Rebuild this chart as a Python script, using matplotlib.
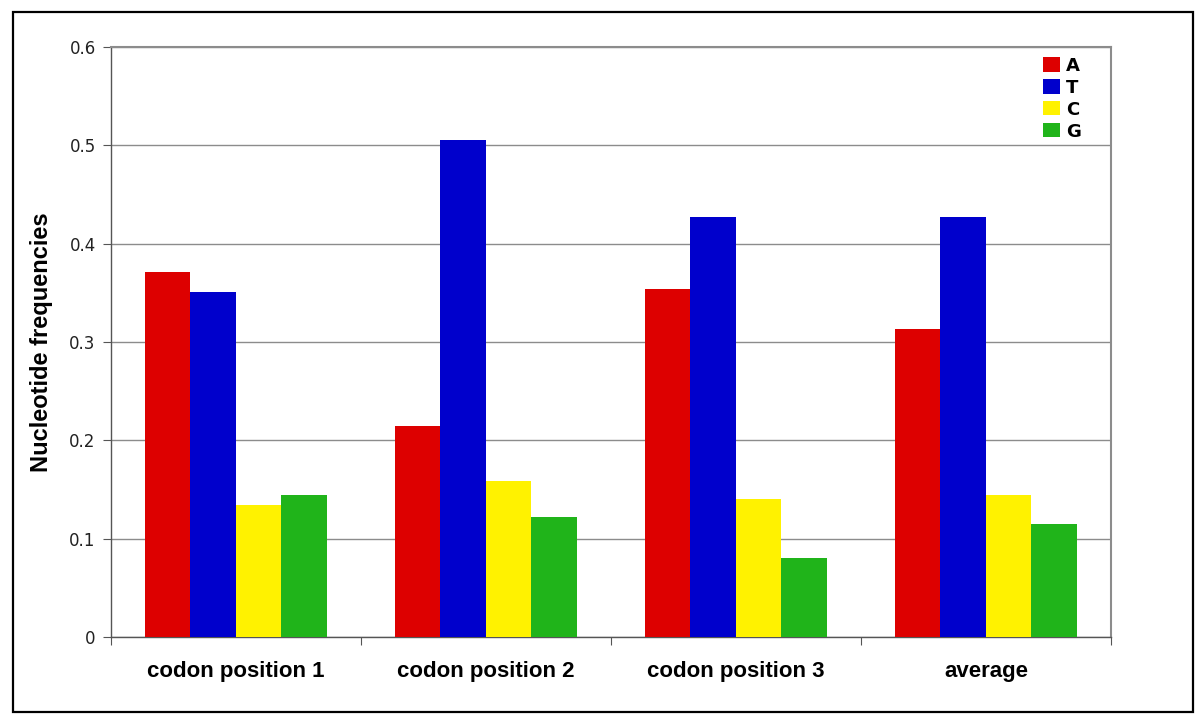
#!/usr/bin/env python3
"""Nucleotide frequencies per codon position, grouped bar chart."""

import matplotlib
matplotlib.use("Agg")
import matplotlib.pyplot as plt
import numpy as np
from matplotlib.patches import Rectangle
from matplotlib.ticker import FixedLocator, FuncFormatter

categories = ["codon position 1", "codon position 2", "codon position 3", "average"]
nucleotides = ["A", "T", "C", "G"]
freq_a = [0.371, 0.215, 0.354, 0.313]
freq_t = [0.351, 0.505, 0.427, 0.427]
freq_c = [0.134, 0.159, 0.140, 0.144]
freq_g = [0.144, 0.122, 0.080, 0.115]
colors = ["#dd0000", "#0000cc", "#fff200", "#20b41a"]
y_ticks = [0, 0.1, 0.2, 0.3, 0.4, 0.5, 0.6]


def main() -> None:
    fig = plt.figure(figsize=(12, 7.22), dpi=100)
    ax = fig.add_axes([0.0925, 0.1177, 0.8333, 0.8172])

    x = np.arange(len(categories))
    width = 0.182
    series = [freq_a, freq_t, freq_c, freq_g]
    for i, (vals, name, col) in enumerate(zip(series, nucleotides, colors)):
        ax.bar(x + (i - 1.5) * width, vals, width=width, color=col,
               label=name, zorder=3, linewidth=0)

    ax.set_xlim(-0.5, len(categories) - 0.5)
    ax.set_ylim(0, 0.6)
    ax.yaxis.set_major_locator(FixedLocator(y_ticks))
    ax.yaxis.set_major_formatter(FuncFormatter(lambda v, _: "0" if v == 0 else f"{v:.1f}"))
    ax.grid(axis="y", color="#8c8c8c", linewidth=1.0, zorder=0)
    ax.set_axisbelow(True)

    ax.set_xticks(x)
    ax.set_xticklabels(categories, fontfamily="Liberation Sans", fontweight="bold", fontsize=16)
    ax.set_xticks(np.arange(-0.5, len(categories)), minor=True)
    ax.tick_params(axis="x", which="major", length=0, pad=17)
    ax.tick_params(axis="x", which="minor", length=6, color="#555555", width=0.8)
    ax.tick_params(axis="y", length=6, color="#555555", width=0.8, pad=5,
                   labelsize=12, labelcolor="#222222")

    for side in ("left", "bottom"):
        ax.spines[side].set_color("#555555")
        ax.spines[side].set_linewidth(1.0)
    for side in ("top", "right"):
        ax.spines[side].set_color("#8c8c8c")
        ax.spines[side].set_linewidth(1.5)

    ax.set_ylabel("Nucleotide frequencies", fontfamily="Liberation Sans",
                  fontweight="bold", fontsize=17)
    ax.yaxis.set_label_coords(-0.058, 0.5)

    ax.legend(loc="upper left", bbox_to_anchor=(0.918, 1.008), frameon=False,
              prop={"family": "DejaVu Sans", "weight": "bold", "size": 13},
              handlelength=0.9, handleheight=0.83, handletextpad=0.35,
              labelspacing=0.22, borderpad=0.3)

    fig.patches.append(Rectangle((13 / 1200, 10 / 722), 1180 / 1200, 700 / 722,
                                 transform=fig.transFigure, fill=False,
                                 edgecolor="black", linewidth=1.6))

    fig.savefig("out.png", dpi=100)


if __name__ == "__main__":
    main()
